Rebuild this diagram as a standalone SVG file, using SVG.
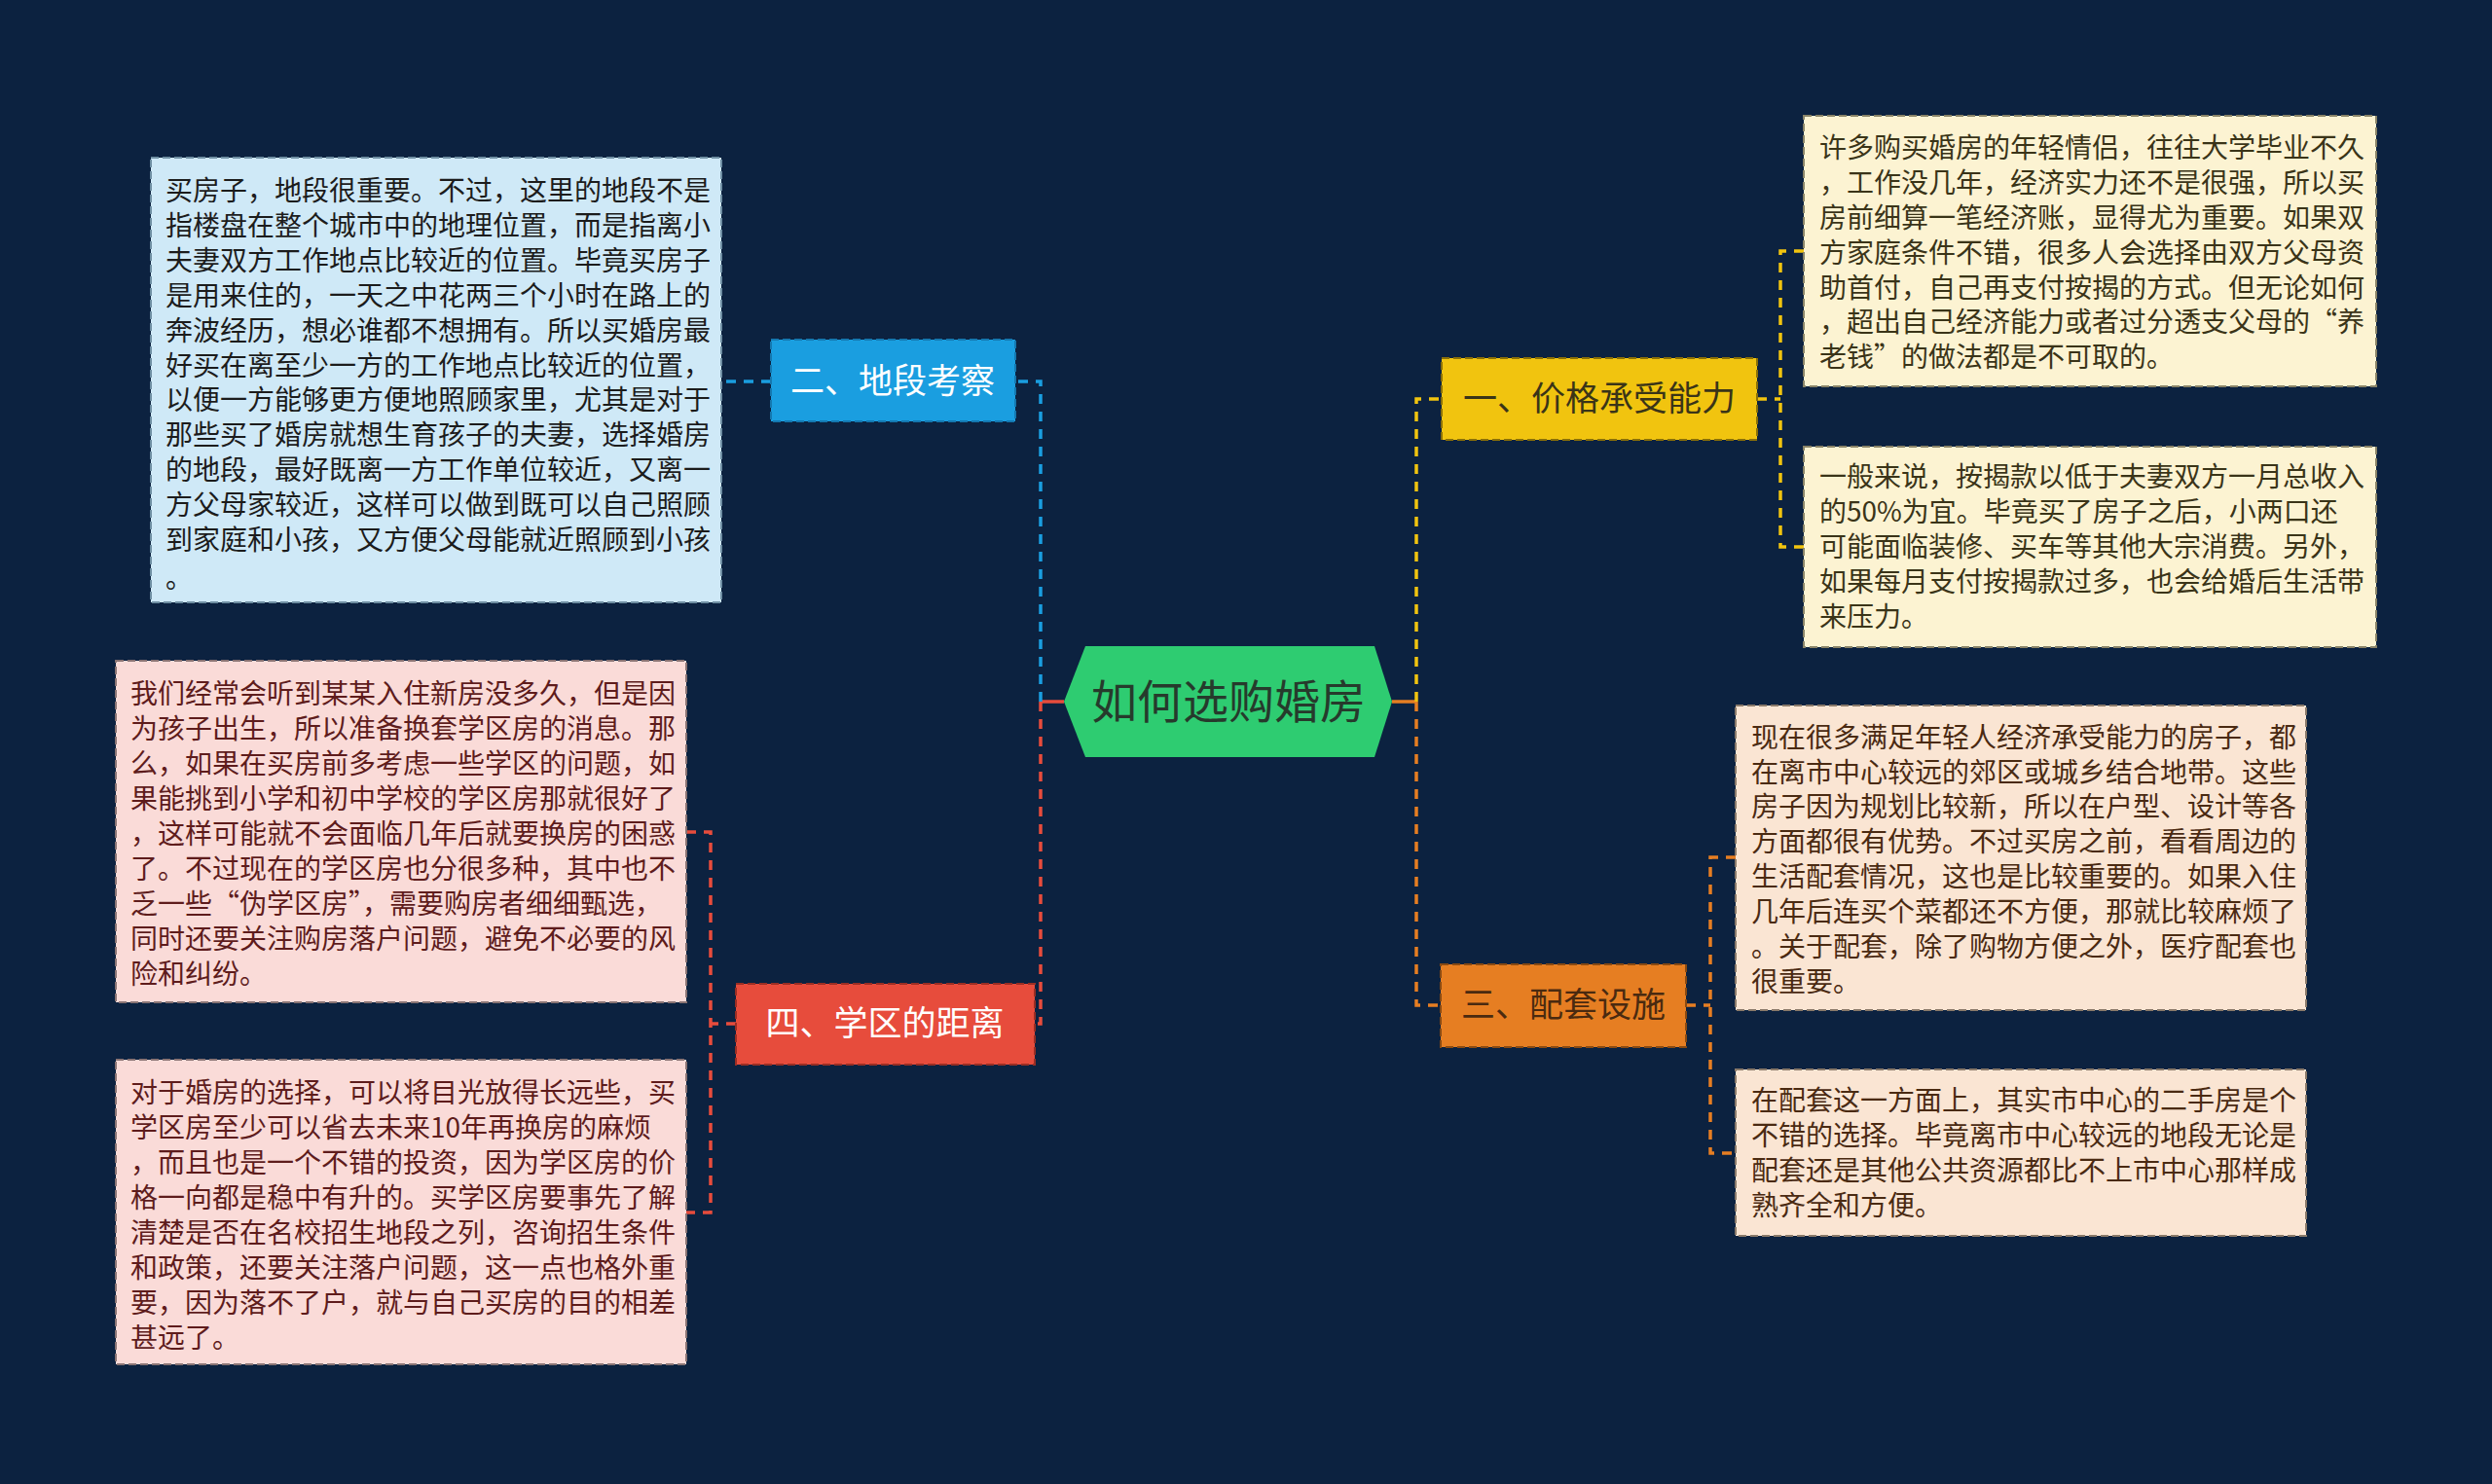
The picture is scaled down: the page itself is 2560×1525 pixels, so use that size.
<svg xmlns="http://www.w3.org/2000/svg" width="2560" height="1525" viewBox="0 0 2560 1525">
<style>
.t{font-family:"Noto Sans CJK SC","Noto Sans",sans-serif;font-size:28px}
.nt{font-family:"Noto Sans CJK SC","Noto Sans",sans-serif;font-size:35px;text-anchor:middle}
.ht{font-family:"Noto Sans CJK SC","Noto Sans",sans-serif;font-size:47px;text-anchor:middle;fill:#263a2c}
.bx{stroke-width:2;stroke-dasharray:8 4}
.cn{fill:none;stroke-width:3.5;stroke-dasharray:10 8}
.cs{fill:none;stroke-width:3.5}
</style>
<rect x="0" y="0" width="2560" height="1525" fill="#0c2240"/>
<g id="connectors">
  <path class="cs" d="M1093,721 H1069" stroke="#e74c3c"/>
  <path class="cn" d="M1069,721 V392 H1043" stroke="#1a9ee0"/>
  <path class="cn" d="M1069,721 V1052 H1063" stroke="#e74c3c"/>
  <path class="cn" d="M792,392 H740" stroke="#1a9ee0"/>
  <path class="cs" d="M1430,721 H1455" stroke="#e67e22"/>
  <path class="cn" d="M1455,721 V410 H1481" stroke="#f1c40f"/>
  <path class="cn" d="M1455,721 V1033 H1480" stroke="#e67e22"/>
  <path class="cn" d="M1805,410 H1829 M1853,258 H1829 V562 H1853" stroke="#f1c40f"/>
  <path class="cn" d="M1732,1033 H1757 M1783,881 H1757 V1185 H1783" stroke="#e67e22"/>
  <path class="cn" d="M756,1052 H730 M705,855 H730 V1246 H705" stroke="#e74c3c"/>
</g>
<g id="root">
  <polygon points="1093,721 1115,664 1412,664 1430,721 1412,778 1115,778" fill="#2ecc71"/>
  <text class="ht" x="1262" y="738">如何选购婚房</text>
</g>
<g id="n2">
  <rect class="bx" x="792" y="349" width="251" height="84" fill="#1a9ee0" stroke="#1478b0"/>
  <text class="nt" x="917" y="404" fill="#ffffff">二、地段考察</text>
</g>
<g id="n1">
  <rect class="bx" x="1481" y="368" width="324" height="84" fill="#f1c40f" stroke="#8a7008"/>
  <text class="nt" x="1643" y="422" fill="#3a3418">一、价格承受能力</text>
</g>
<g id="n3">
  <rect class="bx" x="1480" y="991" width="252" height="85" fill="#e67e22" stroke="#8a4a12"/>
  <text class="nt" x="1606" y="1045" fill="#4a2a10">三、配套设施</text>
</g>
<g id="n4">
  <rect class="bx" x="756" y="1011" width="307" height="83" fill="#e74c3c" stroke="#9a2e24"/>
  <text class="nt" x="909" y="1064" fill="#ffffff">四、学区的距离</text>
</g>
<g id="lb1">
  <rect class="bx" x="155" y="162" width="586" height="457" fill="#cfe9f7" stroke="#6f8fa3"/>
  <text class="t" fill="#1c1c1c">
    <tspan x="170" y="206">买房子，地段很重要。不过，这里的地段不是</tspan>
    <tspan x="170" y="242">指楼盘在整个城市中的地理位置，而是指离小</tspan>
    <tspan x="170" y="278">夫妻双方工作地点比较近的位置。毕竟买房子</tspan>
    <tspan x="170" y="314">是用来住的，一天之中花两三个小时在路上的</tspan>
    <tspan x="170" y="350">奔波经历，想必谁都不想拥有。所以买婚房最</tspan>
    <tspan x="170" y="386">好买在离至少一方的工作地点比较近的位置，</tspan>
    <tspan x="170" y="421">以便一方能够更方便地照顾家里，尤其是对于</tspan>
    <tspan x="170" y="457">那些买了婚房就想生育孩子的夫妻，选择婚房</tspan>
    <tspan x="170" y="493">的地段，最好既离一方工作单位较近，又离一</tspan>
    <tspan x="170" y="529">方父母家较近，这样可以做到既可以自己照顾</tspan>
    <tspan x="170" y="565">到家庭和小孩，又方便父母能就近照顾到小孩</tspan>
    <tspan x="170" y="604">。</tspan>
  </text>
</g>
<g id="rb1">
  <rect class="bx" x="1853" y="119" width="588" height="278" fill="#fcf3d2" stroke="#8a8468"/>
  <text class="t" fill="#3a3418">
    <tspan x="1869" y="162">许多购买婚房的年轻情侣，往往大学毕业不久</tspan>
    <tspan x="1869" y="198">，工作没几年，经济实力还不是很强，所以买</tspan>
    <tspan x="1869" y="234">房前细算一笔经济账，显得尤为重要。如果双</tspan>
    <tspan x="1869" y="270">方家庭条件不错，很多人会选择由双方父母资</tspan>
    <tspan x="1869" y="306">助首付，自己再支付按揭的方式。但无论如何</tspan>
    <tspan x="1869" y="341">，超出自己经济能力或者过分透支父母的“养</tspan>
    <tspan x="1869" y="377">老钱”的做法都是不可取的。</tspan>
  </text>
</g>
<g id="rb2">
  <rect class="bx" x="1853" y="459" width="588" height="206" fill="#fcf3d2" stroke="#8a8468"/>
  <text class="t" fill="#3a3418">
    <tspan x="1869" y="500">一般来说，按揭款以低于夫妻双方一月总收入</tspan>
    <tspan x="1869" y="536">的50%为宜。毕竟买了房子之后，小两口还</tspan>
    <tspan x="1869" y="572">可能面临装修、买车等其他大宗消费。另外，</tspan>
    <tspan x="1869" y="608">如果每月支付按揭款过多，也会给婚后生活带</tspan>
    <tspan x="1869" y="644">来压力。</tspan>
  </text>
</g>
<g id="rb3">
  <rect class="bx" x="1783" y="725" width="586" height="313" fill="#fae5d3" stroke="#8a7a6a"/>
  <text class="t" fill="#4a2a12">
    <tspan x="1799" y="768">现在很多满足年轻人经济承受能力的房子，都</tspan>
    <tspan x="1799" y="804">在离市中心较远的郊区或城乡结合地带。这些</tspan>
    <tspan x="1799" y="839">房子因为规划比较新，所以在户型、设计等各</tspan>
    <tspan x="1799" y="875">方面都很有优势。不过买房之前，看看周边的</tspan>
    <tspan x="1799" y="911">生活配套情况，这也是比较重要的。如果入住</tspan>
    <tspan x="1799" y="947">几年后连买个菜都还不方便，那就比较麻烦了</tspan>
    <tspan x="1799" y="983">。关于配套，除了购物方便之外，医疗配套也</tspan>
    <tspan x="1799" y="1019">很重要。</tspan>
  </text>
</g>
<g id="rb4">
  <rect class="bx" x="1783" y="1099" width="586" height="171" fill="#fae5d3" stroke="#8a7a6a"/>
  <text class="t" fill="#4a2a12">
    <tspan x="1799" y="1141">在配套这一方面上，其实市中心的二手房是个</tspan>
    <tspan x="1799" y="1177">不错的选择。毕竟离市中心较远的地段无论是</tspan>
    <tspan x="1799" y="1213">配套还是其他公共资源都比不上市中心那样成</tspan>
    <tspan x="1799" y="1249">熟齐全和方便。</tspan>
  </text>
</g>
<g id="lb2">
  <rect class="bx" x="119" y="679" width="586" height="351" fill="#fadbd8" stroke="#8a7474"/>
  <text class="t" fill="#5e1c1c">
    <tspan x="134" y="723">我们经常会听到某某入住新房没多久，但是因</tspan>
    <tspan x="134" y="759">为孩子出生，所以准备换套学区房的消息。那</tspan>
    <tspan x="134" y="795">么，如果在买房前多考虑一些学区的问题，如</tspan>
    <tspan x="134" y="831">果能挑到小学和初中学校的学区房那就很好了</tspan>
    <tspan x="134" y="867">，这样可能就不会面临几年后就要换房的困惑</tspan>
    <tspan x="134" y="903">了。不过现在的学区房也分很多种，其中也不</tspan>
    <tspan x="134" y="939">乏一些“伪学区房”，需要购房者细细甄选，</tspan>
    <tspan x="134" y="975">同时还要关注购房落户问题，避免不必要的风</tspan>
    <tspan x="134" y="1011">险和纠纷。</tspan>
  </text>
</g>
<g id="lb3">
  <rect class="bx" x="119" y="1089" width="586" height="313" fill="#fadbd8" stroke="#8a7474"/>
  <text class="t" fill="#5e1c1c">
    <tspan x="134" y="1133">对于婚房的选择，可以将目光放得长远些，买</tspan>
    <tspan x="134" y="1169">学区房至少可以省去未来10年再换房的麻烦</tspan>
    <tspan x="134" y="1205">，而且也是一个不错的投资，因为学区房的价</tspan>
    <tspan x="134" y="1241">格一向都是稳中有升的。买学区房要事先了解</tspan>
    <tspan x="134" y="1277">清楚是否在名校招生地段之列，咨询招生条件</tspan>
    <tspan x="134" y="1313">和政策，还要关注落户问题，这一点也格外重</tspan>
    <tspan x="134" y="1349">要，因为落不了户，就与自己买房的目的相差</tspan>
    <tspan x="134" y="1385">甚远了。</tspan>
  </text>
</g>
</svg>
